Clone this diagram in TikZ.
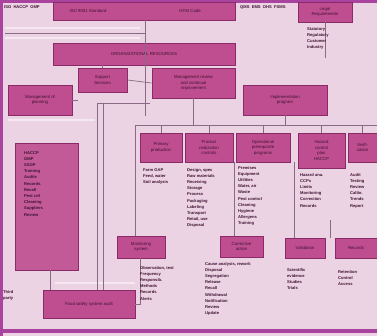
\documentclass[tikz,border=0pt]{standalone}
\usepackage{fontspec}
\setmainfont{Liberation Sans}
\definecolor{bg}{HTML}{ECD3E4}
\definecolor{frame}{HTML}{A8449E}
\definecolor{boxfill}{HTML}{BF4E90}
\definecolor{boxdark}{HTML}{8A2A68}
\definecolor{tallfill}{HTML}{C25A98}
\definecolor{ink}{HTML}{3E1230}
\definecolor{wire}{HTML}{8A6A84}
\definecolor{paleline}{HTML}{F6E8F0}
\tikzset{
  pbox/.style={draw=boxdark, fill=boxfill, line width=0.8pt, inner sep=1pt,
    font=\fontsize{4.3}{5.4}\selectfont, text=ink, align=center},
  tallbox/.style={draw=boxdark, fill=tallfill, line width=0.8pt},
  list/.style={anchor=north west, inner sep=0pt, align=left, text=ink,
    font=\fontsize{4.1}{6.2}\selectfont\bfseries},
  wireln/.style={draw=wire, line width=0.7pt},
  pale/.style={draw=paleline, line width=1.6pt},
}
\newcommand{\bx}[6]{\node[#1, minimum width=#4-#2, minimum height=#5-#3] (#6) at ({(#2+#4)/2},{(#3+#5)/2}) {};}
\begin{document}
\begin{tikzpicture}[x=1pt,y=-1pt]
\useasboundingbox (0,0) rectangle (377,336);
\fill[bg] (0,0) rectangle (377,336);
% frame
\draw[frame, line width=3pt] (1.5,336) -- (1.5,1.5) -- (377,1.5);
\draw[frame, line width=3.5pt] (0,331) -- (377,331);
% pale guide lines
\draw[pale] (5,28) -- (140,28);
\draw[pale] (5,38) -- (140,38);
\draw[pale] (8,120) -- (95,120);
\draw[pale] (55,283) -- (135,283);
% boxes
\bx{pbox}{53}{2}{235}{20}{top}
\bx{pbox}{298}{2}{352}{22}{topr}
\bx{pbox}{53}{43}{235}{65}{res}
\bx{pbox}{78}{68}{127}{92}{sup}
\bx{pbox}{152}{68}{235}{98}{mgmt}
\bx{pbox}{8}{85}{72}{115}{plan}
\bx{pbox}{243}{85}{327}{115}{impl}
\bx{tallbox}{15}{143}{78}{270}{tall}
\bx{pbox}{140}{133}{182}{162}{ra}
\bx{pbox}{185}{133}{233}{162}{rb}
\bx{pbox}{236}{133}{290}{162}{rc}
\bx{pbox}{298}{133}{345}{168}{rd}
\bx{pbox}{348}{133}{377}{162}{re}
\bx{pbox}{117}{236}{165}{258}{sa}
\bx{pbox}{220}{236}{263}{257}{sb}
\bx{pbox}{285}{238}{325}{258}{sc}
\bx{pbox}{335}{238}{377}{258}{sd}
\bx{pbox}{43}{290}{135}{318}{bot}
% box texts
\node[pbox, draw=none, fill=none] at (88,11) {ISO 9001 Standard};
\node[pbox, draw=none, fill=none] at (190,11) {GFSI Code};
\node[pbox, draw=none, fill=none] at (topr) {Legal\\Requirements};
\node[pbox, draw=none, fill=none] at (res) {ORGANIZATIONAL RESOURCES};
\node[pbox, draw=none, fill=none] at (sup) {Support\\Services};
\node[pbox, draw=none, fill=none] at (mgmt) {Management review\\and continual\\improvement};
\node[pbox, draw=none, fill=none] at (plan) {Management of\\planning};
\node[pbox, draw=none, fill=none] at (impl) {Implementation\\program};
\node[pbox, draw=none, fill=none] at (ra) {Primary\\production};
\node[pbox, draw=none, fill=none] at (rb) {Product\\realization\\controls};
\node[pbox, draw=none, fill=none] at (rc) {Operational\\prerequisite\\programs};
\node[pbox, draw=none, fill=none] at (rd) {Hazard\\control\\plan\\HACCP};
\node[pbox, draw=none, fill=none] at (re) {Verifi-\\cation};
\node[pbox, draw=none, fill=none] at (sa) {Monitoring\\system};
\node[pbox, draw=none, fill=none] at (sb) {Corrective\\action};
\node[pbox, draw=none, fill=none] at (sc) {Validation};
\node[pbox, draw=none, fill=none] at (sd) {Records};
\node[pbox, draw=none, fill=none] at (bot) {Food safety system audit};
% connectors
\draw[wireln] (5,33) -- (145,33);
\draw[wireln] (top.south -| 145,0) -- (145,116);
\draw[wireln] (sup.east) -- (mgmt.west);
\draw[wireln] (res.south -| sup) -- (sup.north);
\draw[wireln] (plan.east) -- (sup.west |- plan.east);
\draw[wireln] (97,103) -- (150,103);
\draw[wireln] (97,103) -- (97,290);
\draw[wireln] (103,103) -- (103,290);
\draw[wireln] (135,125) -- (377,125);
\draw[wireln] (135,125) -- (135,236);
\draw[wireln] (impl.south) -- (impl.south |- 0,125);
\draw[wireln] (mgmt.south) -- (mgmt.south |- 0,125);
\draw[wireln] (ra.north) -- (ra.north |- 0,125);
\draw[wireln] (rb.north) -- (rb.north |- 0,125);
\draw[wireln] (rc.north) -- (rc.north |- 0,125);
\draw[wireln] (rd.north) -- (rd.north |- 0,125);
\draw[wireln] (re.north) -- (re.north |- 0,125);
\draw[wireln] (234.5,162) -- (234.5,236);
\draw[wireln] (294,162) -- (294,238);
\draw[wireln] (330,220) -- (330,238);
\draw[wireln] (tall.south -| 50,0) -- (50,290);
\draw[wireln] (bot.east) -- (bot.east -| 140,0) -- (140,258);
\draw[wireln] (325,20) -- (325,58);
% lists
\node[list] at (4,5) {ISO \ HACCP \ GMP};
\node[list] at (240,5) {QMS \ EMS \ OHS \ FSMS};
\node[list] at (307,27) {Statutory\\Regulatory\\Customer\\Industry};
\node[list] at (24,151) {HACCP\\GMP\\SSOP\\Training\\Audits\\Records\\Recall\\Pest ctrl\\Cleaning\\Suppliers\\Review};
\node[list] at (143,168) {Farm GAP\\Feed, water\\Soil analysis};
\node[list] at (187,168) {Design, spec\\Raw materials\\Receiving\\Storage\\Process\\Packaging\\Labeling\\Transport\\Retail, use\\Disposal};
\node[list] at (238,166) {Premises\\Equipment\\Utilities\\Water, air\\Waste\\Pest control\\Cleaning\\Hygiene\\Allergens\\Training};
\node[list] at (300,173) {Hazard ana.\\CCPs\\Limits\\Monitoring\\Correction\\Records};
\node[list] at (350,173) {Audit\\Testing\\Review\\Calibr.\\Trends\\Report};
\node[list] at (140,266) {Observation, test\\Frequency\\Responsib.\\Methods\\Records\\Alerts};
\node[list] at (205,262) {Cause analysis, rework\\Disposal\\Segregation\\Release\\Recall\\Withdrawal\\Notification\\Review\\Update};
\node[list] at (287,268) {Scientific\\evidence\\Studies\\Trials};
\node[list] at (338,270) {Retention\\Control\\Access};
\node[list] at (3,290) {Third\\party};
\end{tikzpicture}
\end{document}
